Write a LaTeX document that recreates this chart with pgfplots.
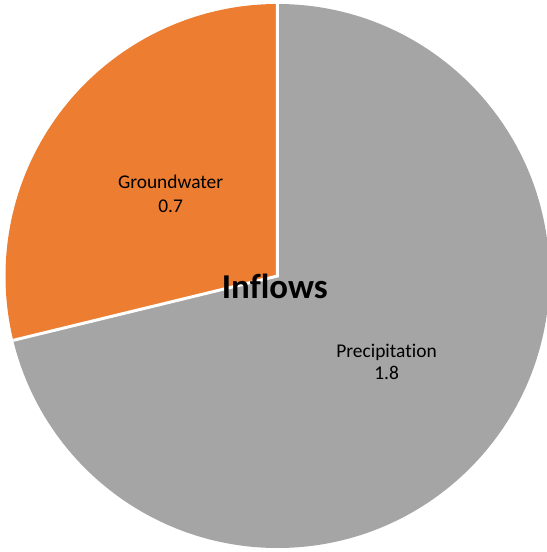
\documentclass[border=0pt]{standalone}
\usepackage{pgfplots}
\usepackage{pgfplotstable}
\usepackage{fontspec}
\setmainfont{Carlito}[Ligatures={NoCommon}]
\pgfplotsset{compat=1.18}
\definecolor{cPrec}{HTML}{A5A5A5}
\definecolor{cGround}{HTML}{ED7D31}
\pgfplotstableread{
label value
Precipitation 1.78
Groundwater 0.72
}\piedata
\pgfplotstablegetelem{0}{value}\of\piedata \let\vP\pgfplotsretval
\pgfplotstablegetelem{1}{value}\of\piedata \let\vG\pgfplotsretval
\pgfmathsetmacro\aP{360*\vP/(\vP+\vG)}
\pgfmathsetmacro\aEnd{90-\aP}
\begin{document}
\begin{tikzpicture}
\useasboundingbox (0,0) rectangle (547bp,552bp);
\begin{axis}[
  at={(0,0)}, anchor=south west,
  hide axis, clip=false,
  x=272bp, y=272bp,
  xmin=-1.0202, xmax=0.9908, ymin=-1.0147, ymax=1.0147,
  /pgf/number format/assume math mode=true,
]
% Precipitation slice (clockwise from top)
\fill[cPrec] (axis cs:0,0) -- (axis cs:0,1) arc[start angle=90, end angle=\aEnd, radius=272bp] -- cycle;
% Groundwater slice
\fill[cGround] (axis cs:0,0) -- (axis cs:0,1) arc[start angle=90, end angle=\aEnd+360, radius=272bp] -- cycle;
% white separators
\draw[white, line width=3bp] (axis cs:0,1) -- (axis cs:0,0) -- ({cos(\aEnd)},{sin(\aEnd)});
% labels
\node[anchor=base, font=\fontsize{19.5}{23}\selectfont] at (axis cs:-0.393,0.320) {Groundwater};
\node[anchor=base, font=\fontsize{19.5}{23}\selectfont] at (axis cs:-0.393,0.235) {\pgfmathprintnumber[fixed,precision=1]{\vG}};
\node[anchor=base, font=\fontsize{19.5}{23}\selectfont] at (axis cs:0.401,-0.298) {Precipitation};
\node[anchor=base, font=\fontsize{19.5}{23}\selectfont] at (axis cs:0.401,-0.382) {\pgfmathprintnumber[fixed,precision=1]{\vP}};
\node[anchor=base, font=\fontsize{35}{40}\selectfont\bfseries] at (axis cs:-0.010,-0.081) {Inflows};
\end{axis}
\end{tikzpicture}
\end{document}
